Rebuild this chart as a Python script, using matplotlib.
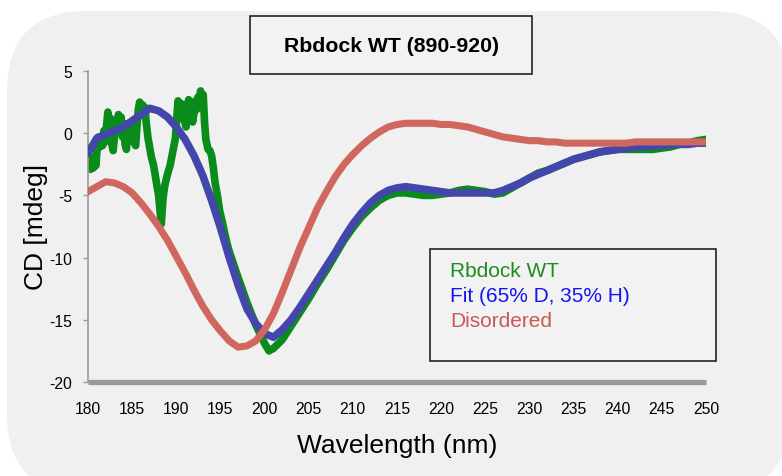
import matplotlib
matplotlib.use("Agg")
import matplotlib.pyplot as plt
from matplotlib.patches import FancyBboxPatch, Rectangle

plt.rcParams['font.family'] = ['Liberation Sans', 'DejaVu Sans']
plt.rcParams['axes.unicode_minus'] = False

# ---------------- data ----------------
wavelength = list(range(180, 251))

disordered_cd = [
    -4.7, -4.3, -3.9, -4.0, -4.3, -4.8, -5.6, -6.5, -7.5, -8.6,   # 180-189
    -9.9, -11.2, -12.6, -13.9, -15.0, -15.9, -16.7, -17.2, -17.1, -16.7,  # 190-199
    -15.8, -14.5, -12.8, -11.0, -9.2, -7.6, -6.0, -4.7, -3.5, -2.5,  # 200-209
    -1.7, -1.0, -0.4, 0.1, 0.5, 0.7, 0.8, 0.8, 0.8, 0.8,   # 210-219
    0.7, 0.7, 0.6, 0.5, 0.3, 0.1, -0.1, -0.3, -0.4, -0.5,  # 220-229
    -0.6, -0.6, -0.7, -0.7, -0.8, -0.8, -0.8, -0.8, -0.8, -0.8,  # 230-239
    -0.8, -0.8, -0.7, -0.7, -0.7, -0.7, -0.7, -0.7, -0.7, -0.7,  # 240-249
    -0.7,  # 250
]

fit_cd = [
    -1.6, -0.4, -0.1, 0.2, 0.5, 1.0, 1.5, 2.0, 1.8, 1.3,    # 180-189
    0.5, -0.5, -1.8, -3.4, -5.4, -7.6, -10.0, -12.2, -14.1, -15.3,  # 190-199
    -16.1, -16.4, -15.8, -15.0, -14.0, -12.9, -11.8, -10.7, -9.6, -8.4,  # 200-209
    -7.3, -6.4, -5.6, -5.0, -4.6, -4.4, -4.3, -4.4, -4.5, -4.6,  # 210-219
    -4.7, -4.8, -4.8, -4.8, -4.8, -4.8, -4.8, -4.6, -4.3, -4.0,  # 220-229
    -3.6, -3.3, -3.0, -2.7, -2.4, -2.1, -1.9, -1.7, -1.5, -1.4,  # 230-239
    -1.3, -1.2, -1.1, -1.1, -1.0, -1.0, -0.9, -0.9, -0.9, -0.8,  # 240-249
    -0.8,  # 250
]

wt_wavelength = [
    180.00, 180.15, 180.30, 180.45, 180.60, 180.75, 180.90, 181.05, 181.20, 181.35,
    181.50, 181.65, 181.80, 181.95, 182.10, 182.25, 182.40, 182.55, 182.70, 182.85,
    183.00, 183.15, 183.30, 183.45, 183.60, 183.75, 183.90, 184.05, 184.20, 184.35,
    184.50, 184.65, 184.80, 184.95, 185.10, 185.25, 185.40, 185.55, 185.70, 185.85,
    186.00, 186.15, 186.30, 186.45, 186.60, 186.80, 187.00, 187.20, 187.40, 187.60,
    187.80, 188.00, 188.20, 188.30, 188.50, 188.70, 189.00, 189.30, 189.60, 189.90,
    190.05, 190.20, 190.35, 190.50, 190.65, 190.80, 190.95, 191.10, 191.25, 191.40,
    191.55, 191.70, 191.85, 192.00, 192.15, 192.30, 192.45, 192.60, 192.75, 192.90,
    193.05, 193.20, 193.35, 193.60, 193.80, 194.00, 194.20, 194.40, 194.70, 194.90,
    195.20, 195.50, 195.80, 196.00, 197.00, 198.00, 199.00, 200.00, 200.50, 201.00,
    202.0, 203.0, 204.0, 205.0, 206.0, 207.0, 208.0, 209.0, 210.0, 211.0,
    212.0, 213.0, 214.0, 215.0, 216.0, 217.0, 218.0, 219.0, 220.0, 221.0,
    222.0, 223.0, 224.0, 225.0, 226.0, 227.0, 228.0, 229.0, 230.0, 231.0,
    232.0, 233.0, 234.0, 235.0, 236.0, 237.0, 238.0, 239.0, 240.0, 241.0,
    242.0, 243.0, 244.0, 245.0, 246.0, 247.0, 248.0, 249.0, 250.0,
]

wt_cd = [
    -1.2, -2.4, -2.9, -2.2, -2.8, -1.9, -2.6, -1.0, -0.3, -1.1,
    -0.4, -1.0, 0.2, -0.7, 0.6, 1.7, 0.3, 1.2, -0.9, -1.4,
    -0.2, 1.0, 0.4, 1.5, 0.2, 1.3, -0.3, 0.8, -0.9, -1.3,
    0.1, -0.6, 0.7, -0.2, 0.5, -0.8, -1.0, 0.6, 1.9, 2.5,
    1.7, 2.3, 1.4, 2.1, 0.8, -0.4, -1.2, -2.0, -2.5, -3.3,
    -4.2, -5.0, -6.6, -7.3, -5.2, -4.2, -3.3, -2.6, -1.5, -0.4,
    1.2, 2.6, 1.6, 2.4, 1.2, 2.3, 0.9, 0.5, 1.8, 2.7,
    1.3, 2.0, 0.9, 1.6, 2.6, 1.9, 2.9, 2.2, 3.4, 2.6,
    3.1, 0.9, -0.5, -1.3, -1.4, -1.8, -2.8, -4.0, -5.2, -6.2,
    -7.1, -8.1, -9.0, -9.5, -11.6, -13.6, -15.4, -16.9, -17.5, -17.3,
    -16.6, -15.5, -14.4, -13.3, -12.1, -11.0, -9.8, -8.6, -7.6, -6.7,
    -6.0, -5.4, -5.0, -4.8, -4.8, -4.9, -5.0, -5.0, -4.9, -4.8,
    -4.6, -4.5, -4.6, -4.7, -4.9, -4.8, -4.4, -4.0, -3.6, -3.2,
    -3.0, -2.7, -2.4, -2.1, -1.9, -1.7, -1.5, -1.4, -1.3, -1.3,
    -1.3, -1.3, -1.3, -1.2, -1.1, -0.9, -0.8, -0.6, -0.5,
]

x_ticks = list(range(180, 251, 5))
y_ticks = [-20, -15, -10, -5, 0, 5]
legend_labels = ["Rbdock WT", "Fit (65% D, 35% H)", "Disordered"]
title_text = "Rbdock WT (890-920)"

# ---------------- figure ----------------
W, H = 782, 477
fig = plt.figure(figsize=(W / 100, H / 100), dpi=100)
fig.patch.set_facecolor('white')

bg = fig.add_axes([0, 0, 1, 1], zorder=0)
bg.set_xlim(0, W)
bg.set_ylim(H, 0)
bg.axis('off')
bg.add_patch(FancyBboxPatch((7, 12), 783, 483,
                            boxstyle="round,pad=0,rounding_size=80",
                            facecolor='#f0f0f0', edgecolor='none'))

# title box
bg.add_patch(Rectangle((250, 17), 282, 58, facecolor='#f2f2f2',
                       edgecolor='#111111', linewidth=1.1))
bg.text(391, 46, title_text, ha='center', va='center',
        fontsize=15.3, fontweight='bold', color='black')

# legend box
bg.add_patch(Rectangle((430, 250), 286, 112, facecolor='#f2f2f2',
                       edgecolor='#111111', linewidth=1.1))
legend_colors = ['#1e8c1e', '#1414ee', '#c85a55']
for i, (lab, col) in enumerate(zip(legend_labels, legend_colors)):
    bg.text(450, 272 + 25 * i, lab, ha='left', va='center',
            fontsize=15, color=col)

# main axes
ax = fig.add_axes([88 / W, (H - 383) / H, 618 / W, 311 / H], zorder=1)
ax.patch.set_alpha(0)

ax.plot(wt_wavelength, wt_cd, color='#0a8c1a', lw=5.5,
        solid_joinstyle='round', solid_capstyle='round', zorder=2)
ax.plot(wavelength, fit_cd, color='#4347ab', lw=5.5,
        solid_joinstyle='round', solid_capstyle='round', zorder=3)
ax.plot(wavelength, disordered_cd, color='#d0675f', lw=5.1,
        solid_joinstyle='round', solid_capstyle='round', zorder=4)

ax.set_xlim(180, 250)
ax.set_ylim(-20, 5)
ax.set_xticks(x_ticks)
ax.set_yticks(y_ticks)

for s in ['top', 'right']:
    ax.spines[s].set_visible(False)
ax.spines['left'].set_color('#9a9a9a')
ax.spines['left'].set_linewidth(1.2)
ax.spines['bottom'].set_color('#999999')
ax.spines['bottom'].set_linewidth(3.8)
ax.spines['bottom'].set_capstyle('butt')

ax.tick_params(axis='x', length=0, pad=14, labelsize=11.3, colors='black')
ax.tick_params(axis='y', length=3.5, width=1, color='#9a9a9a',
               pad=8, labelsize=11.3, labelcolor='black')

ax.set_xlabel("Wavelength (nm)", fontsize=19, labelpad=12)
ax.set_ylabel("CD [mdeg]", fontsize=19, labelpad=1)

fig.savefig("out.png", dpi=100, facecolor='white')
